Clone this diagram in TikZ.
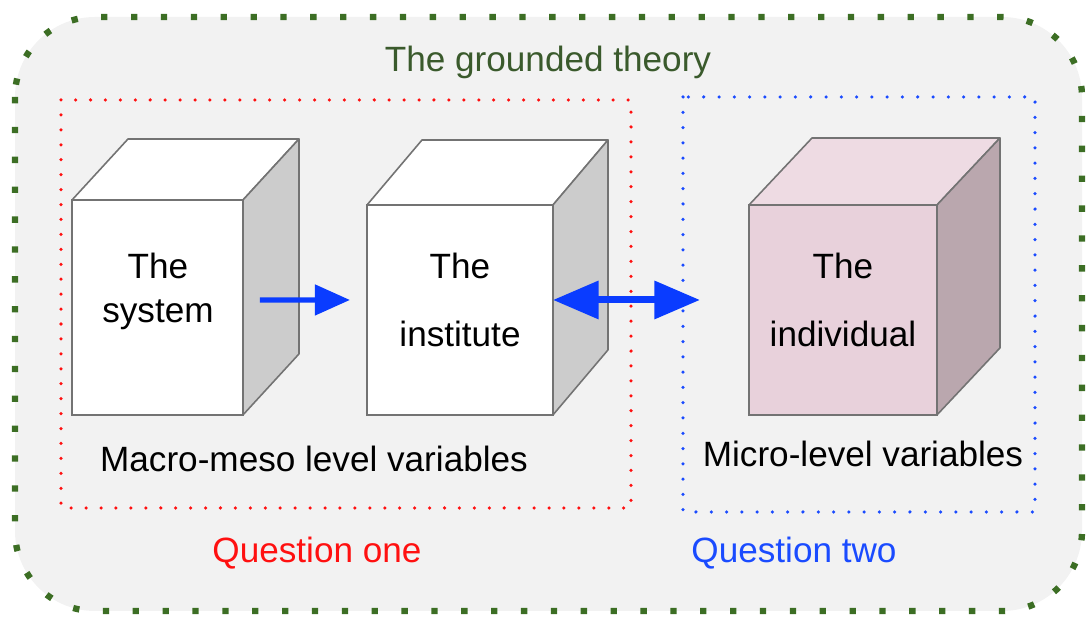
\documentclass[tikz,border=0pt]{standalone}
\usepackage{fontspec}
\setmainfont{Liberation Sans}
\usetikzlibrary{arrows.meta,positioning}

\definecolor{framegreen}{HTML}{3C6E24}
\definecolor{titlegreen}{HTML}{3A5A2C}
\definecolor{panel}{HTML}{F2F2F2}
\definecolor{qone}{HTML}{FF1010}
\definecolor{qtwo}{HTML}{1A4BFF}
\definecolor{arrblue}{HTML}{0A3CFF}
\definecolor{cubeside}{HTML}{CCCCCC}
\definecolor{indfront}{HTML}{E8D1DB}
\definecolor{indtop}{HTML}{EEDBE3}
\definecolor{indside}{HTML}{BAA7AE}

\begin{document}
\begin{tikzpicture}[x=0.02cm, y=-0.02cm,
  front/.style={draw=black!55, line width=0.9pt, fill=white, anchor=north west,
                inner sep=0pt, outer sep=0pt},
  face/.style={draw=black!55, line width=0.9pt, line join=round},
  txt/.style={font=\fontsize{20}{25}\selectfont, align=center, inner sep=0pt},
  arr/.style={-{Triangle[length=20pt, width=17pt]}, line width=3pt, draw=arrblue},
  darr/.style={{Triangle[length=26pt, width=21pt]}-{Triangle[length=26pt, width=21pt]},
               line width=4pt, draw=arrblue}
]
\useasboundingbox (0,0) rectangle (1090,617);

% frames
\draw[framegreen, fill=panel, line width=3.6pt, dash pattern=on 3.6pt off 13.4pt,
      rounded corners=1.6cm] (15,17) rectangle (1082,611);
\draw[qone, line width=2pt, line cap=round, dash pattern=on 0pt off 8.5pt]
      (61,100) rectangle (631,508);
\draw[qtwo, line width=2pt, line cap=round, dash pattern=on 0pt off 8.7pt]
      (683,97) rectangle (1035,512);

% cubes
\node[front, minimum width=3.42cm, minimum height=4.3cm] (sys) at (72,200) {};
\node[front, minimum width=3.72cm, minimum height=4.2cm] (inst) at (367,205) {};
\node[front, minimum width=3.76cm, minimum height=4.2cm, fill=indfront] (ind) at (749,205) {};

\foreach \c/\dx/\dy/\topc/\sidec in {sys/56/-61/white/cubeside,
    inst/55/-65/white/cubeside, ind/63/-67/indtop/indside} {
  \draw[face, fill=\topc] (\c.north west) -- ++(\dx,\dy)
    -- ([shift={(\dx,\dy)}]\c.north east) -- (\c.north east) -- cycle;
  \draw[face, fill=\sidec] (\c.north east) -- ++(\dx,\dy)
    -- ([shift={(\dx,\dy)}]\c.south east) -- (\c.south east) -- cycle;
}

% texts
\node[txt, text=titlegreen] (title) at (548,62) {The grounded theory};
\node[txt] (systxt) at (158,291) {The\\system};
\node[txt] (insttxt) at (460,300) {The\\[13.7pt]institute};
\node[txt] (indtxt) at (843,300) {The\\[13.7pt]individual};
\node[txt] (macro) at (314,459) {Macro-meso level variables};
\node[txt] (micro) at (863,454) {Micro-level variables};
\node[txt, text=qone] (q1) at (317,553) {Question one};
\node[txt, text=qtwo] (q2) at (794,553) {Question two};

% arrows
\draw[arr] ([shift={(17,-7.5)}]sys.east) -- ([shift={(-17,-10)}]inst.west);
\draw[darr] ([shift={(0,-10)}]inst.east) -- ([shift={(-49,-10)}]ind.west);
\end{tikzpicture}
\end{document}
